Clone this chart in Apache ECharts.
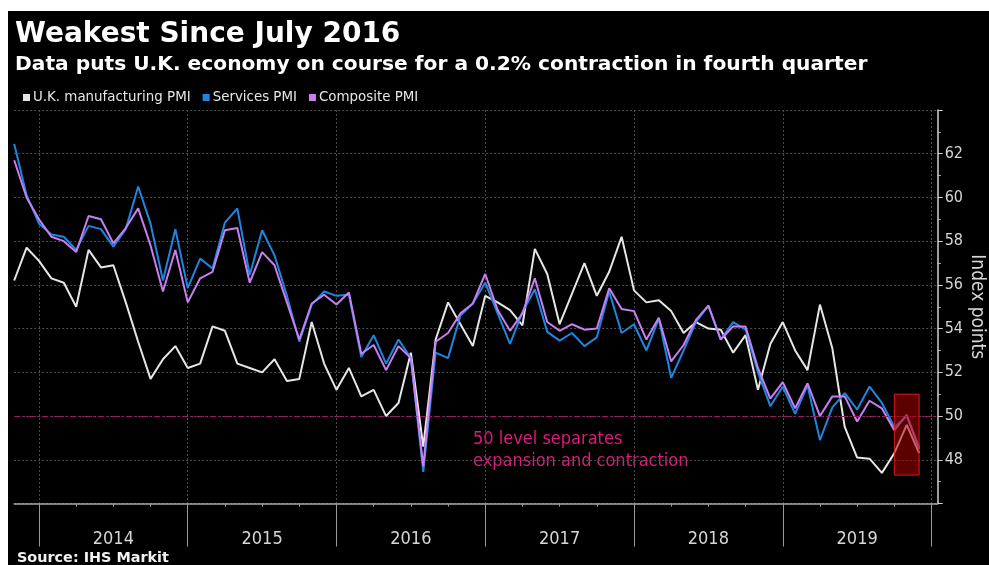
<!DOCTYPE html>
<html><head><meta charset="utf-8">
<script src="https://cdn.jsdelivr.net/npm/echarts@6/dist/echarts.min.js"></script>
<style>
html,body{margin:0;padding:0;background:#fff;width:989px;height:565px;overflow:hidden}
#c{position:absolute;left:8px;top:11px;width:981px;height:554px;}
</style>
</head><body><div id="c"></div>
<script>
// Monthly data, Oct 2013 .. Nov 2019 (Nov 2019 = flash estimate)
const firstMonth = '2013-10';
const manufacturing = [56.2,57.7,57.1,56.3,56.1,55.0,57.6,56.8,56.9,55.2,53.4,51.7,
  52.6,53.2,52.2,52.4,54.1,53.9,52.4,52.2,52.0,52.6,51.6,51.7,
  54.3,52.4,51.2,52.2,50.9,51.2,50.0,50.6,52.9,48.6,53.5,55.2,
  54.2,53.2,55.5,55.2,54.85,54.15,57.65,56.5,54.2,55.6,57.0,55.5,
  56.6,58.2,55.75,55.2,55.3,54.8,53.8,54.3,54.0,53.95,52.9,53.7,
  51.2,53.3,54.3,53.0,52.1,55.1,53.1,49.5,48.1,48.05,47.4,48.3,
  49.6,48.3];
const services = [62.45,60.1,58.8,58.3,58.2,57.6,58.7,58.55,57.75,58.55,60.5,58.8,
  56.2,58.55,55.85,57.2,56.75,58.85,59.5,56.45,58.5,57.35,55.5,53.4,
  55.1,55.7,55.5,55.55,52.7,53.7,52.4,53.5,52.65,47.45,52.9,52.65,
  54.6,55.15,56.1,54.7,53.3,54.75,55.8,53.85,53.45,53.8,53.2,53.6,
  55.7,53.8,54.2,53.0,54.45,51.75,53.0,54.3,55.05,53.5,54.3,53.95,
  52.0,50.45,51.35,50.1,51.4,48.9,50.4,51.05,50.3,51.35,50.6,49.5,
  50.0,48.6];
const composite = [61.7,60.0,59.0,58.2,58.0,57.5,59.15,59.0,57.9,58.6,59.5,57.8,
  55.7,57.6,55.2,56.3,56.6,58.5,58.6,56.1,57.5,56.9,55.2,53.5,
  55.15,55.55,55.1,55.65,52.85,53.25,52.1,53.2,52.65,47.7,53.4,53.8,
  54.7,55.15,56.5,54.85,53.9,54.7,56.3,54.3,53.9,54.2,53.95,54.0,
  55.85,54.9,54.8,53.5,54.5,52.5,53.25,54.4,55.05,53.5,54.1,54.1,
  52.2,50.8,51.55,50.35,51.5,50.0,50.9,50.9,49.75,50.7,50.35,49.35,
  50.05,48.5];
const years = ['2014','2015','2016','2017','2018','2019','2020'];
const thresholdLevel = 50;
const highlightFrom = '2019-09', highlightTo = '2019-11';
const highlightLow = 47.3, highlightHigh = 51.0;

// month labels
const months = [];
{
  let y = +firstMonth.slice(0,4), m = +firstMonth.slice(5,7);
  for (let i = 0; i < manufacturing.length; i++) {
    months.push(y + '-' + String(m).padStart(2,'0'));
    m++; if (m > 12) { m = 1; y++; }
  }
}
// position on the x scale: months since 1 Jan 2014, plotted at month end
const baseYear = +years[0];
function xPos(label){ const y=+label.slice(0,4), m=+label.slice(5,7); return (y-baseYear)*12 + m; }
const xs = months.map(xPos);
const pairs = arr => arr.map((v,i)=>[xs[i], v]);

const yearTicks = years.map(y => (+y - baseYear)*12);
const yearLabelPos = years.slice(0,-1).map(y => (+y - baseYear)*12 + 6);
const quarterTicks = [];
for (let i = 0; i < years.length-1; i++) for (const q of [3,6,9]) quarterTicks.push(i*12+q);

const xMin = xs[0], xMax = 72.5;
const cond = "'DejaVu Sans Condensed','Liberation Sans Narrow','DejaVu Sans',sans-serif";
const sans = "'DejaVu Sans',sans-serif";

const chart = echarts.init(document.getElementById('c'), null, {renderer:'canvas'});
chart.setOption({
  backgroundColor:'#000',
  animation:false,
  title:[
    {text:'Weakest Since July 2016', left:7, top:10, padding:0,
     textStyle:{color:'#fff', fontSize:28, fontWeight:'bold', fontFamily:sans}},
    {text:'Data puts U.K. economy on course for a 0.2% contraction in fourth quarter', left:7, top:44, padding:0,
     textStyle:{color:'#fff', fontSize:20.2, fontWeight:'bold', fontFamily:sans}}
  ],
  legend:{
    left:10, top:75, icon:'rect', itemWidth:7, itemHeight:7, itemGap:12,
    textStyle:{color:'#e6e6e6', fontSize:13.4, fontFamily:sans, padding:[0,0,0,-2]},
    data:['U.K. manufacturing PMI','Services PMI','Composite PMI']
  },
  grid:{left:6.2, right:51.3, top:99, bottom:61.5, containLabel:false, outerBoundsMode:'none'},
  xAxis:[
    {type:'value', min:xMin, max:xMax, position:'bottom',
     axisLine:{show:true, onZero:false, lineStyle:{color:'#a8a8a8', width:1.5}},
     axisTick:{show:true, customValues:yearTicks, length:43, lineStyle:{color:'#9a9a9a', width:1}},
     axisLabel:{show:true, customValues:yearLabelPos, color:'#d6d6d6', fontSize:18, fontFamily:cond, margin:27,
       formatter:v => String(baseYear + Math.round((v-6)/12))},
     splitLine:{show:true, lineStyle:{color:'#4a4a4a', type:[2,2], width:1}}
    },
    {type:'value', min:xMin, max:xMax, position:'bottom',
     axisLine:{show:false, onZero:false},
     axisTick:{show:true, customValues:quarterTicks, length:3, lineStyle:{color:'#9a9a9a'}},
     axisLabel:{show:false}, splitLine:{show:false}
    }
  ],
  yAxis:{type:'value', position:'right', min:46, max:64, interval:2,
    axisLine:{show:true, onZero:false, lineStyle:{color:'#d0d0d0', width:1.5}},
    axisTick:{show:true, length:5, lineStyle:{color:'#d0d0d0'}},
    minorTick:{show:true, splitNumber:2, length:3, lineStyle:{color:'#bdbdbd'}},
    axisLabel:{color:'#d6d6d6', fontSize:16, fontFamily:cond, margin:7, showMinLabel:false, showMaxLabel:false},
    splitLine:{show:true, lineStyle:{color:'#4f4f4f', type:[2,2], width:1}},
    name:'Index points', nameLocation:'middle', nameRotate:-90, nameGap:30, nameMoveOverlap:false,
    nameTextStyle:{color:'#d6d6d6', fontSize:19, fontFamily:cond}
  },
  series:[
    {name:'U.K. manufacturing PMI', type:'line', data:pairs(manufacturing), showSymbol:false,
     color:'#e6e6e6', lineStyle:{width:2, color:'#e6e6e6'}, z:2},
    {name:'Services PMI', type:'line', data:pairs(services), showSymbol:false,
     color:'#1f86e0', lineStyle:{width:2, color:'#1f86e0'}, z:3},
    {name:'Composite PMI', type:'line', data:pairs(composite), showSymbol:false,
     color:'#c77ff2', lineStyle:{width:2, color:'#c77ff2'}, z:4,
     markLine:{silent:true, symbol:'none', label:{show:false},
       lineStyle:{color:'#9c1a62', type:[6,3,2,3], width:1.2},
       data:[{yAxis:thresholdLevel}]},
     markArea:{silent:true, z:10,
       itemStyle:{color:'rgba(170,0,0,0.55)', borderColor:'#e01818', borderWidth:1},
       data:[[{xAxis:xPos(highlightFrom), yAxis:highlightLow},{xAxis:xPos(highlightTo), yAxis:highlightHigh}]]}
    }
  ],
  graphic:[
    {type:'text', left:465, top:417, silent:true,
     style:{text:'50 level separates\nexpansion and contraction', fill:'#e0197d', fontSize:18,
       fontFamily:cond, lineHeight:22}},
    {type:'text', left:9, top:540, silent:true,
     style:{text:'Source: IHS Markit', fill:'#f2f2f2', fontSize:14.4, fontWeight:'bold', fontFamily:sans}}
  ]
});
</script></body></html>
